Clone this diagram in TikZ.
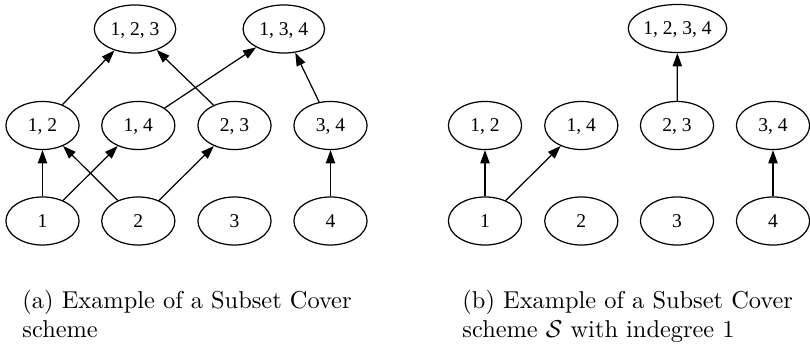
\documentclass[tikz,border=0pt]{standalone}
\usepackage{fontspec}
\newfontfamily\graphfont{Liberation Serif}
\usetikzlibrary{shapes.geometric,arrows.meta}

\tikzset{
  vertex/.style={ellipse, draw, line width=0.5pt, inner sep=0pt,
    minimum width=30pt, minimum height=19.7pt,
    font=\graphfont\fontsize{8}{10}\selectfont, text height=5.3pt, text depth=0pt},
  wide/.style={minimum width=33.4pt},
  wider/.style={minimum width=40.4pt},
  edge/.style={line width=0.5pt, -{Triangle[length=5.4pt,width=3.8pt]}},
  caption/.style={anchor=north west, inner sep=0pt, align=left,
    font=\fontsize{10}{11.9}\selectfont}
}

\begin{document}
\begin{tikzpicture}[x=0.41pt, y=-0.41pt]
\useasboundingbox (0,0) rectangle (810,344);

% ---- (a) Subset Cover scheme ----
\node[vertex] (a1) at (42.5,221) {1};
\node[vertex] (a2) at (138.3,221) {2};
\node[vertex] (a3) at (234.5,221) {3};
\node[vertex] (a4) at (330.5,221) {4};
\node[vertex] (a12) at (42.5,125.5) {1, 2};
\node[vertex] (a14) at (138.3,125.5) {1, 4};
\node[vertex] (a23) at (234.5,125.5) {2, 3};
\node[vertex] (a34) at (330.5,125.5) {3, 4};
\node[vertex,wide] (a123) at (135,29) {1, 2, 3};
\node[vertex,wide] (a134) at (283.8,29) {1, 3, 4};

\draw[edge] (a1) -- (a12);
\draw[edge] (a1) -- (a14);
\draw[edge] (a2) -- (a12);
\draw[edge] (a2) -- (a23);
\draw[edge] (a4) -- (a34);
\draw[edge] (a12) -- (a123);
\draw[edge] (a23) -- (a123);
\draw[edge] (a14) -- (a134);
\draw[edge] (a34) -- (a134);

\node[caption] (capa) at (22,290) {(a) Example of a Subset Cover\\scheme};

% ---- (b) scheme with indegree 1 ----
\node[vertex] (b1) at (485,221) {1};
\node[vertex] (b2) at (581.3,221) {2};
\node[vertex] (b3) at (677,221) {3};
\node[vertex] (b4) at (773,221) {4};
\node[vertex] (b12) at (485,125.5) {1, 2};
\node[vertex] (b14) at (581.3,125.5) {1, 4};
\node[vertex] (b23) at (677,125.5) {2, 3};
\node[vertex] (b34) at (773,125.5) {3, 4};
\node[vertex,wider] (b1234) at (677.5,28.5) {1, 2, 3, 4};

\draw[edge] (b1) -- (b12);
\draw[edge] (b1) -- (b14);
\draw[edge] (b4) -- (b34);
\draw[edge] (b23) -- (b1234);

\node[caption] (capb) at (462,290) {(b) Example of a Subset Cover\\scheme $\mathcal{S}$ with indegree 1};
\end{tikzpicture}
\end{document}
